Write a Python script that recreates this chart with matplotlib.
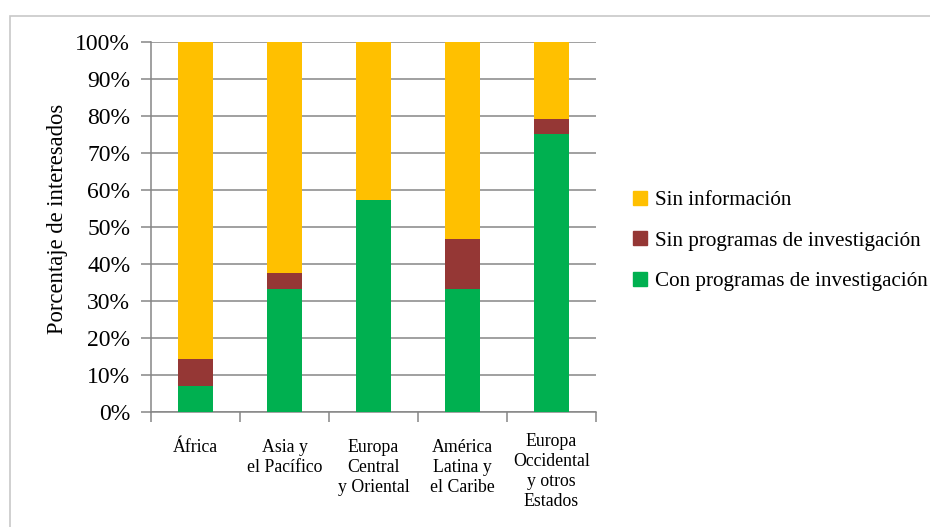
import matplotlib
matplotlib.use("Agg")
import matplotlib.pyplot as plt
from matplotlib.patches import Patch, Rectangle
import numpy as np

plt.rcParams["font.family"] = ["Liberation Serif", "DejaVu Serif"]

regions = ["África", "Asia y\nel Pacífico", "Europa\nCentral\ny Oriental",
           "América\nLatina y\nel Caribe", "Europa\nOccidental\ny otros\nEstados"]
con_prog = [7.1, 33.3, 57.1, 33.3, 75.0]
sin_prog = [7.1, 4.2, 0.0, 13.3, 4.2]
sin_info = [100 - c - s for c, s in zip(con_prog, sin_prog)]

C_INFO = "#FFC000"
C_SIN = "#953735"
C_CON = "#00B050"
GRID = "#868686"

fig = plt.figure(figsize=(9.30, 5.27), dpi=100)
ax = fig.add_axes([151 / 930, 1 - 412 / 527, 445 / 930, 370.5 / 527])

x = np.arange(len(regions))
w = 0.40
ax.bar(x, con_prog, w, color=C_CON, zorder=3)
ax.bar(x, sin_prog, w, bottom=con_prog, color=C_SIN, zorder=3)
ax.bar(x, sin_info, w, bottom=np.add(con_prog, sin_prog), color=C_INFO, zorder=3)

ax.set_xlim(-0.5, len(regions) - 0.5)
ax.set_ylim(0, 100)
ax.set_yticks(np.arange(0, 101, 10))
ax.set_yticklabels([f"{v}%" for v in range(0, 101, 10)], fontsize=17)
ax.grid(True, axis="y", color=GRID, lw=1.1, zorder=0)
ax.tick_params(axis="y", length=7, width=1.1, color=GRID, pad=8)

# category boundaries carry the x tick marks, labels drawn separately
ax.set_xticks(np.arange(-0.5, len(regions)))
ax.set_xticklabels([])
ax.tick_params(axis="x", length=7, width=1.1, color=GRID)
for i, lab in enumerate(regions):
    dy = -27 if lab.count("\n") < 3 else -21
    ax.annotate(lab, (x[i], 0), xytext=(0, dy), textcoords="offset pixels",
                ha="center", va="top", fontsize=12.8, linespacing=1.22)

for s in ("top", "right"):
    ax.spines[s].set_visible(False)
for s in ("left", "bottom"):
    ax.spines[s].set_color(GRID)
    ax.spines[s].set_linewidth(1.1)

ax.set_ylabel("Porcentaje de interesados", fontsize=16.3, va="center")
ax.yaxis.set_label_coords(-0.211, 0.52)

handles = [Patch(color=C_INFO, label="Sin información"),
           Patch(color=C_SIN, label="Sin programas de investigación"),
           Patch(color=C_CON, label="Con programas de investigación")]
fig.legend(handles=handles, loc="center left", bbox_to_anchor=(633 / 930, 1 - 241 / 527),
           frameon=False, fontsize=15.2, handlelength=0.66, handleheight=0.66,
           handletextpad=0.4, labelspacing=1.0, borderaxespad=0, borderpad=0)

# outer chart frame
fig.add_artist(Rectangle((10 / 930, -0.2), 1.2, 1.2 - 16 / 527, transform=fig.transFigure,
                         fill=False, ec="#c8c8c8", lw=1.2))

fig.savefig("out.png", dpi=100)
